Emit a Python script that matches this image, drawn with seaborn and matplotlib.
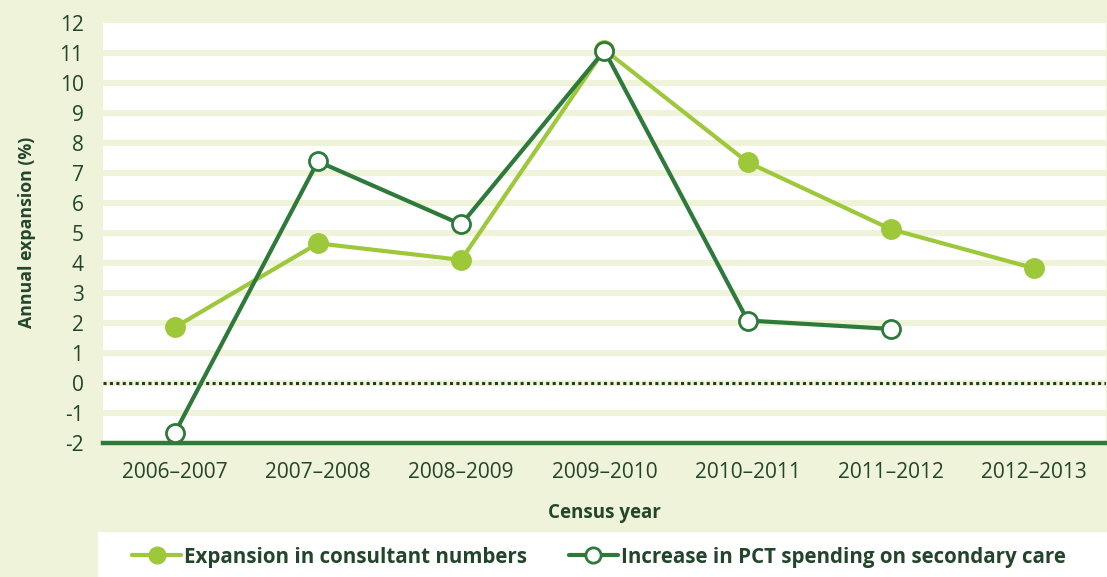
import numpy as np
import pandas as pd
import matplotlib
matplotlib.use("Agg")
import matplotlib.pyplot as plt
from matplotlib.lines import Line2D
from matplotlib.patches import Rectangle
import seaborn as sns

years = ["2006–2007", "2007–2008", "2008–2009", "2009–2010", "2010–2011", "2011–2012", "2012–2013"]
consultants = [1.85, 4.65, 4.1, 11.1, 7.35, 5.12, 3.82]
pct_spending = [-1.68, 7.38, 5.28, 11.07, 2.08, 1.8, np.nan]
yticks = list(range(-2, 13))

BG = "#EEF3D9"
LIGHT = "#9DC83A"
DARK = "#2E7A3B"
TEXT = "#22452B"

sns.set_theme(style="white")
plt.rcParams["font.family"] = ["Open Sans", "DejaVu Sans"]

fig = plt.figure(figsize=(11.07, 5.77), dpi=100, facecolor=BG)
ax = fig.add_axes([0.093, 0.2322, 0.906, 0.7285])
ax.set_facecolor("white")

# horizontal grid bands
for t in yticks[1:-1]:
    ax.axhline(t, color=BG, lw=4.3, zorder=0)
ax.axhline(0, color="#1F3D24", lw=2.2, ls=(0, (1, 1.1)), zorder=1)

df1 = pd.DataFrame({"year": years, "value": consultants})
df2 = pd.DataFrame({"year": years, "value": pct_spending}).dropna()

sns.lineplot(data=df1, x="year", y="value", ax=ax, color=LIGHT, lw=3,
             marker="o", markersize=14, markerfacecolor=LIGHT,
             markeredgecolor=LIGHT, markeredgewidth=1, zorder=3)
sns.lineplot(data=df2, x="year", y="value", ax=ax, color=DARK, lw=3,
             marker="o", markersize=13, markerfacecolor="white",
             markeredgecolor=DARK, markeredgewidth=2, zorder=4)

ax.set_xlim(-0.5, len(years) - 0.5)
ax.set_ylim(-2, 12)
ax.set_yticks(yticks)
ax.set_yticklabels([str(t) for t in yticks])
ax.set_xticks(range(len(years)))
ax.set_xticklabels(years)
ax.set_xticks(np.arange(-0.5, len(years)), minor=True)

for s in ["top", "right", "left"]:
    ax.spines[s].set_visible(False)
ax.spines["bottom"].set_color(DARK)
ax.spines["bottom"].set_linewidth(3.2)

ax.tick_params(axis="x", which="major", length=0, pad=14, labelsize=15, labelcolor=TEXT)
ax.tick_params(axis="x", which="minor", length=5, width=3, color=DARK, direction="out")
ax.tick_params(axis="y", length=0, pad=14, labelsize=15, labelcolor=TEXT)

ax.set_xlabel("Census year", fontsize=13.5, fontweight="bold", color=TEXT, labelpad=14)
ax.set_ylabel("Annual expansion (%)", fontsize=12.8, fontweight="bold", color=TEXT, labelpad=17)

# legend box
fig.patches.append(Rectangle((98 / 1107, 0), 1 - 98 / 1107, 45 / 577,
                             transform=fig.transFigure, facecolor="white",
                             edgecolor="none", zorder=0))
handles = [
    Line2D([], [], color=LIGHT, lw=3, marker="o", markersize=12,
           markerfacecolor=LIGHT, markeredgecolor=LIGHT),
    Line2D([], [], color=DARK, lw=3, marker="o", markersize=11,
           markerfacecolor="white", markeredgecolor=DARK, markeredgewidth=2),
]
labels = ["Expansion in consultant numbers", "Increase in PCT spending on secondary care"]
leg = fig.legend(handles, labels, loc="center", bbox_to_anchor=(0.541, 20 / 577),
                 ncol=2, frameon=False, fontsize=14.8, handlelength=2.4,
                 handletextpad=0.15, columnspacing=2.0)
for t in leg.get_texts():
    t.set_color(TEXT)
    t.set_fontweight("bold")

fig.savefig("out.png", dpi=100, facecolor=BG)
